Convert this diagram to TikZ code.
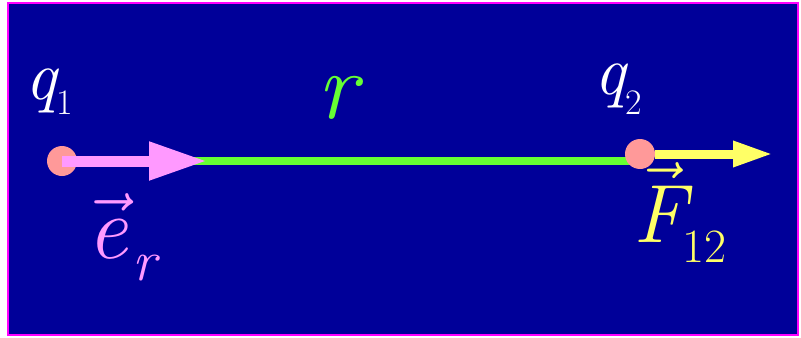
\RequirePackage{fix-cm}
\documentclass[tikz,border=0pt]{standalone}
\usepackage{xcolor}
\usetikzlibrary{arrows.meta,positioning}

\definecolor{slide}{HTML}{000099}
\definecolor{frame}{HTML}{FF00FF}
\definecolor{dotpink}{HTML}{FF9999}
\definecolor{unitpink}{HTML}{FF99FF}
\definecolor{rgreen}{HTML}{66FF33}
\definecolor{fyellow}{HTML}{FFFF66}

\begin{document}
\begin{tikzpicture}[
    x=1bp, y=1bp,
    charge/.style={
        circle,
        fill=dotpink,
        minimum size=30bp,
        inner sep=0pt
    },
    symbol/.style={
        inner sep=0pt,
        anchor=base west
    },
    unitarrow/.style={
        unitpink,
        line width=11bp,
        -{Triangle[length=58bp,width=36bp]}
    },
    forcearrow/.style={
        fyellow,
        line width=9bp,
        -{Triangle[length=40bp,width=24bp]}
    },
    rline/.style={
        rgreen,
        line width=8bp
    }
]

% =========================================================
% BACKGROUND
% =========================================================

\useasboundingbox (0,0) rectangle (801,337);
\fill[white] (0,0) rectangle (801,337);
\draw[frame, line width=2bp, fill=slide] (8,2) rectangle (798,334);

\coordinate (p1) at (62,176);
\coordinate (p2) at (640,183);
\coordinate (ertip) at (207,176);
\coordinate (ftip) at (773,183);

% =========================================================
% CHARGES AND VECTORS
% =========================================================

\draw[rline] (p1) -- (p1 -| p2);

\node[charge] (q1) at (p1) {};

\draw[unitarrow] (q1.center) -- (ertip);

\node[charge] (q2) at (p2) {};

\draw[forcearrow] (q2.east) -- (ftip);

% =========================================================
% LABELS
% =========================================================

\node[symbol, white] (lq1) at (25,238) {%
{\fontsize{70}{70}\selectfont\itshape q}\raisebox{-15bp}{\fontsize{36}{36}\selectfont 1}};

\node[symbol, white] (lq2) at (594,243) {%
{\fontsize{70}{70}\selectfont\itshape q}\raisebox{-20bp}{\fontsize{36}{36}\selectfont 2}};

\node[inner sep=0pt, anchor=base, rgreen] (lr) at (337,219) {%
\fontsize{96}{96}\selectfont\itshape r};

\node[symbol, unitpink] (ler) at (87,79) {%
\fontsize{90}{90}\selectfont$\vec{\hbox{\itshape e}}$\hspace{5bp}\raisebox{-22bp}{\fontsize{58}{58}\selectfont\itshape r}};

\node[symbol, fyellow] (lf) at (633,95) {%
\fontsize{83}{83}\selectfont$\vec{\hbox{\itshape F}}$\hspace{-3bp}\raisebox{-20bp}{\fontsize{48}{48}\selectfont 12}};

\end{tikzpicture}
\end{document}
